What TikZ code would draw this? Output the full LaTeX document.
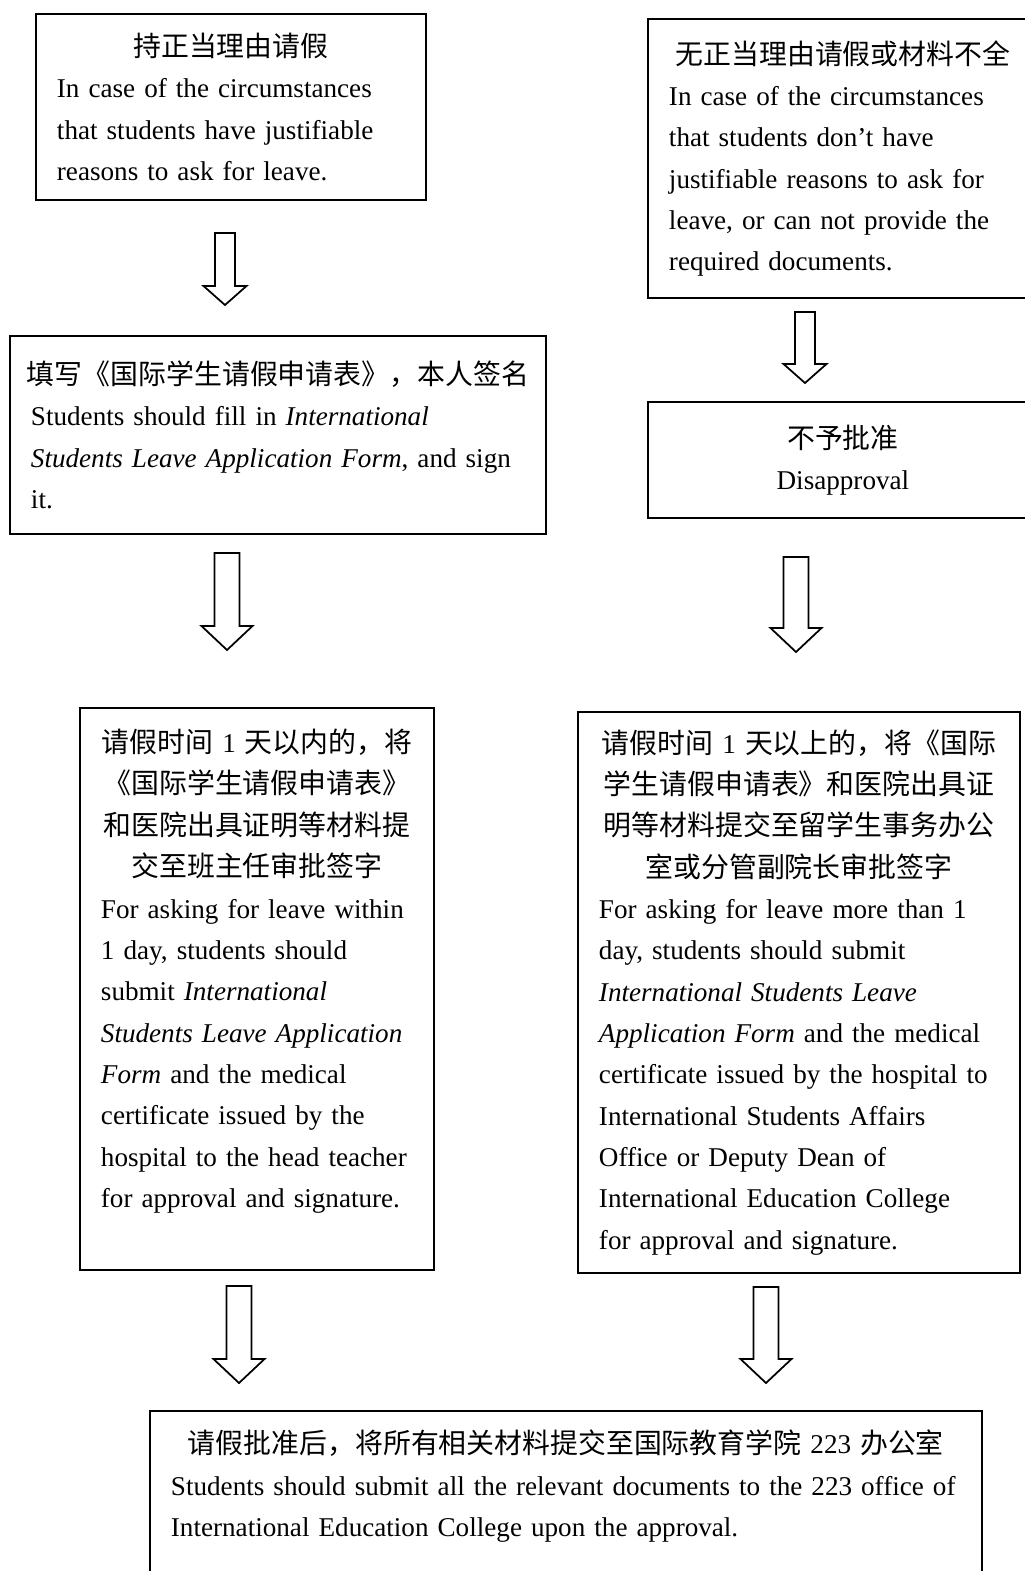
\documentclass[tikz,border=0pt]{standalone}
\usepackage{fontspec}
\setmainfont{Liberation Serif}
\newfontfamily\cjk{Noto Sans CJK SC}[Scale=1.028]
\usepackage{tikz}
\usetikzlibrary{
  calc
}
\newcommand{\zh}[1]{\makebox[\linewidth]{\cjk #1}}
\newcommand{\en}[1]{\makebox[\linewidth][l]{#1}}
\newcommand{\num}[1]{{\rmfamily #1}}
\tikzset{
  % Flowchart step box
  box/.style={
    rectangle,
    draw=black,
    line width=1.1pt,
    anchor=north west,
    inner xsep=0.42cm,
    inner ysep=0pt,
    font=\fontsize{15.44pt}{23.53pt}\selectfont
  },
  % Hollow block arrow between two steps
  blockarrow/.style n args={3}{
    draw=black,
    line width=1pt,
    to path={let \p1=(\tikztostart), \p2=(\tikztotarget) in
      (\x1-#1,\y1) -- (\x1+#1,\y1) -- (\x1+#1,\y2+#3) -- (\x1+#2,\y2+#3)
      -- (\x2,\y2) -- (\x1-#2,\y2+#3) -- (\x1-#1,\y2+#3) -- cycle}
  },
  sarrow/.style={blockarrow={0.2cm}{0.43cm}{0.38cm}},
  barrow/.style={blockarrow={0.25cm}{0.51cm}{0.48cm}}
}
\begin{document}
\begin{tikzpicture}[x=0.02cm, y=-0.02cm]
  \useasboundingbox (0,0) rectangle (1024,1571);

  % Left branch
  \node[box, minimum width=7.8cm, minimum height=3.72cm, text width=6.96cm] (just) at (35,13) {%
    \zh{持正当理由请假}\\
    \en{In case of the circumstances}\\
    \en{that students have justifiable}\\
    \en{reasons to ask for leave.}};

  \node[box, minimum width=10.72cm, minimum height=3.96cm, text width=9.88cm] (fill) at (9,335) {%
    \zh{填写《国际学生请假申请表》，本人签名}\\
    \en{Students should fill in \textit{International}}\\
    \en{\textit{Students Leave Application Form}, and sign}\\
    \en{it.}};

  \node[box, minimum width=7.08cm, minimum height=11.24cm, text width=6.24cm] (short) at (79,707) {%
    \zh{请假时间 \num{1} 天以内的，将}\\
    \zh{《国际学生请假申请表》}\\
    \zh{和医院出具证明等材料提}\\
    \zh{交至班主任审批签字}\\
    \en{For asking for leave within}\\
    \en{1 day, students should}\\
    \en{submit \textit{International}}\\
    \en{\textit{Students Leave Application}}\\
    \en{\textit{Form} and the medical}\\
    \en{certificate issued by the}\\
    \en{hospital to the head teacher}\\
    \en{for approval and signature.}\\
    \mbox{}};

  % Right branch
  \node[box, minimum width=7.8cm, minimum height=5.58cm, text width=6.96cm] (unjust) at (647,18) {%
    \zh{无正当理由请假或材料不全}\\
    \en{In case of the circumstances}\\
    \en{that students don’t have}\\
    \en{justifiable reasons to ask for}\\
    \en{leave, or can not provide the}\\
    \en{required documents.}};

  \node[box, minimum width=7.8cm, minimum height=2.32cm, text width=6.96cm] (deny) at (647,401) {%
    \zh{不予批准}\\
    \makebox[\linewidth]{Disapproval}};

  \node[box, minimum width=8.84cm, minimum height=11.22cm, text width=8cm] (long) at (577,711) {%
    \zh{请假时间 \num{1} 天以上的，将《国际}\\
    \zh{学生请假申请表》和医院出具证}\\
    \zh{明等材料提交至留学生事务办公}\\
    \zh{室或分管副院长审批签字}\\
    \en{For asking for leave more than 1}\\
    \en{day, students should submit}\\
    \en{\textit{International Students Leave}}\\
    \en{\textit{Application Form} and the medical}\\
    \en{certificate issued by the hospital to}\\
    \en{International Students Affairs}\\
    \en{Office or Deputy Dean of}\\
    \en{International Education College}\\
    \en{for approval and signature.}};

  % Final step
  \node[box, minimum width=16.64cm, minimum height=3.72cm, text width=15.8cm] (submit) at (149,1410) {%
    \zh{请假批准后，将所有相关材料提交至国际教育学院 \num{223} 办公室}\\
    \en{Students should submit all the relevant documents to the 223 office of}\\
    \en{International Education College upon the approval.}\\
    \mbox{}};

  % Arrow ends
  \coordinate (a1s) at (225,233);  \coordinate (a1e) at (225,305);
  \coordinate (a2s) at (805,312);  \coordinate (a2e) at (805,383);
  \coordinate (a3s) at (227,553);  \coordinate (a3e) at (227,650);
  \coordinate (a4s) at (796,557);  \coordinate (a4e) at (796,652);
  \coordinate (a5s) at (239,1286); \coordinate (a5e) at (239,1383);
  \coordinate (a6s) at (766,1287); \coordinate (a6e) at (766,1383);

  \draw[sarrow] (a1s) to (a1e);
  \draw[sarrow] (a2s) to (a2e);
  \draw[barrow] (a3s) to (a3e);
  \draw[barrow] (a4s) to (a4e);
  \draw[barrow] (a5s) to (a5e);
  \draw[barrow] (a6s) to (a6e);
\end{tikzpicture}
\end{document}
